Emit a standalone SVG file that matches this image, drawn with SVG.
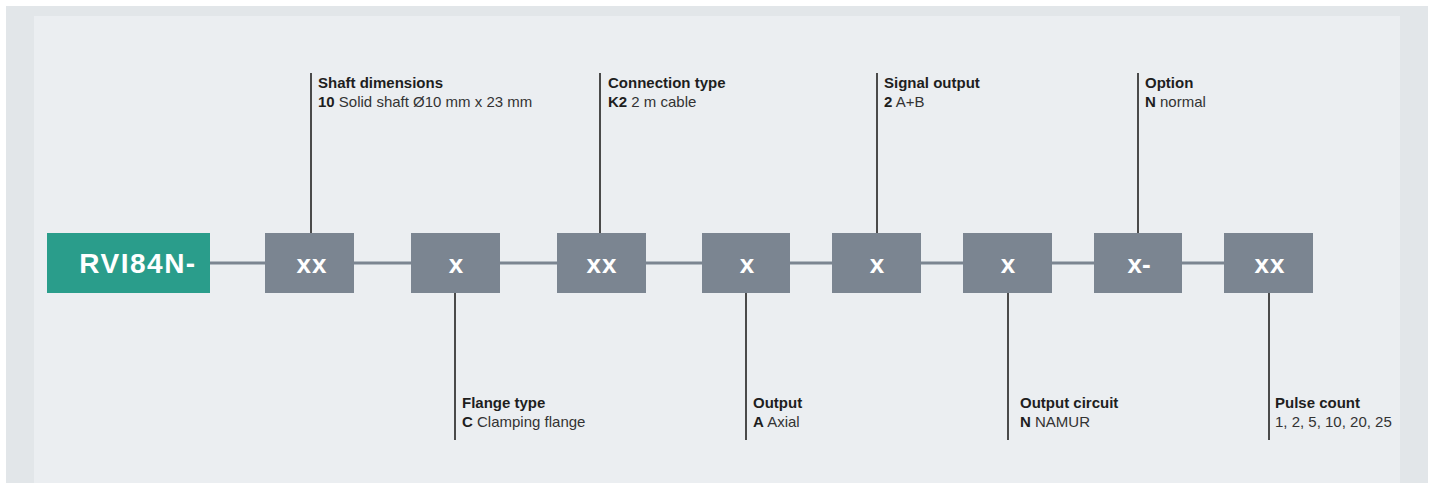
<svg xmlns="http://www.w3.org/2000/svg" width="1430" height="483" viewBox="0 0 1430 483">
<defs>
<style>
.box{fill:#7b8591}
.main{fill:#2a9d8b}
.btxt{font-family:"Liberation Sans",Arial,sans-serif;font-weight:bold;font-size:26px;fill:#ffffff;text-anchor:middle}
.lead{stroke:#4a4a4a;stroke-width:2;fill:none}
.link{stroke:#7b8591;stroke-width:3;fill:none}
.h{font-family:"Liberation Sans",Arial,sans-serif;font-weight:bold;font-size:15px;fill:#1e1e1e}
.t{font-family:"Liberation Sans",Arial,sans-serif;font-size:15px;fill:#333333}
.k{font-weight:bold;fill:#1e1e1e}
</style>
</defs>
<rect x="0" y="0" width="1430" height="483" fill="#ffffff"/>
<rect x="6" y="6" width="1422" height="477" fill="#e2e6e9"/>
<rect x="34" y="16" width="1366" height="467" fill="#ebeef1"/>
<g id="connectors">
<line class="link" x1="210" y1="263" x2="1224" y2="263"/>
<line class="lead" x1="311" y1="73" x2="311" y2="233"/>
<line class="lead" x1="600" y1="73" x2="600" y2="233"/>
<line class="lead" x1="877" y1="73" x2="877" y2="233"/>
<line class="lead" x1="1138" y1="73" x2="1138" y2="233"/>
<line class="lead" x1="455" y1="293" x2="455" y2="440"/>
<line class="lead" x1="746" y1="293" x2="746" y2="440"/>
<line class="lead" x1="1008" y1="293" x2="1008" y2="440"/>
<line class="lead" x1="1269" y1="293" x2="1269" y2="440"/>
</g>
<g id="n0"><rect class="main" x="47" y="233" width="163" height="60"/><text class="btxt" x="138" y="273" style="font-size:28px;letter-spacing:1.5px">RVI84N-</text></g>
<g id="n1"><rect class="box" x="265" y="233" width="89" height="60"/><text class="btxt" x="312" y="273" style="letter-spacing:1px">xx</text></g>
<g id="n2"><rect class="box" x="411" y="233" width="89" height="60"/><text class="btxt" x="456" y="273">x</text></g>
<g id="n3"><rect class="box" x="557" y="233" width="89" height="60"/><text class="btxt" x="602" y="273" style="letter-spacing:1px">xx</text></g>
<g id="n4"><rect class="box" x="702" y="233" width="88" height="60"/><text class="btxt" x="747" y="273">x</text></g>
<g id="n5"><rect class="box" x="832" y="233" width="89" height="60"/><text class="btxt" x="877" y="273">x</text></g>
<g id="n6"><rect class="box" x="963" y="233" width="89" height="60"/><text class="btxt" x="1008" y="273">x</text></g>
<g id="n7"><rect class="box" x="1094" y="233" width="88" height="60"/><text class="btxt" x="1139" y="273">x-</text></g>
<g id="n8"><rect class="box" x="1224" y="233" width="89" height="60"/><text class="btxt" x="1270" y="273" style="letter-spacing:1px">xx</text></g>
<g id="label-shaft"><text class="h" x="318" y="88">Shaft dimensions</text><text class="t" x="318" y="107"><tspan class="k">10</tspan> Solid shaft Ø10 mm x 23 mm</text></g>
<g id="label-connection"><text class="h" x="608" y="88">Connection type</text><text class="t" x="608" y="107"><tspan class="k">K2</tspan> 2 m cable</text></g>
<g id="label-signal"><text class="h" x="884" y="88">Signal output</text><text class="t" x="884" y="107"><tspan class="k">2</tspan>  A+B</text></g>
<g id="label-option"><text class="h" x="1145" y="88">Option</text><text class="t" x="1145" y="107"><tspan class="k">N</tspan>  normal</text></g>
<g id="label-flange"><text class="h" x="462" y="408">Flange type</text><text class="t" x="462" y="427"><tspan class="k">C</tspan> Clamping flange</text></g>
<g id="label-output"><text class="h" x="753" y="408">Output</text><text class="t" x="753" y="427"><tspan class="k">A</tspan> Axial</text></g>
<g id="label-circuit"><text class="h" x="1020" y="408">Output circuit</text><text class="t" x="1020" y="427"><tspan class="k">N</tspan> NAMUR</text></g>
<g id="label-pulse"><text class="h" x="1275" y="408">Pulse count</text><text class="t" x="1275" y="427">1, 2, 5, 10, 20, 25</text></g>
</svg>
